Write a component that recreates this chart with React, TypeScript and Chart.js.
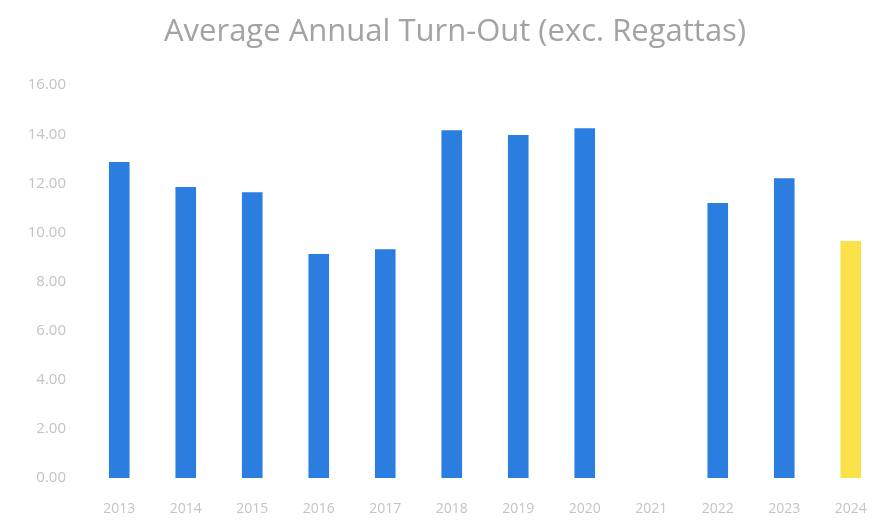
import React, { useEffect, useRef } from "react";
import { Chart, registerables } from "chart.js";

Chart.register(...registerables);

const categories = ["2013", "2014", "2015", "2016", "2017", "2018", "2019", "2020", "2021", "2022", "2023", "2024"];
const turnOut: (number | null)[] = [12.87, 11.85, 11.64, 9.12, 9.32, 14.17, 13.97, 14.25, null, 11.2, 12.21, 9.65];
const barColors = ["#2b7de0", "#2b7de0", "#2b7de0", "#2b7de0", "#2b7de0", "#2b7de0", "#2b7de0", "#2b7de0", "#2b7de0", "#2b7de0", "#2b7de0", "#fbe14a"];
const yTickValues = [0, 2, 4, 6, 8, 10, 12, 14, 16];
const titleText = "Average Annual Turn-Out (exc. Regattas)";

export default function App() {
  const ref = useRef<HTMLCanvasElement | null>(null);

  useEffect(() => {
    if (!ref.current) return;
    const chart = new Chart(ref.current, {
      type: "bar",
      data: {
        labels: categories,
        datasets: [
          {
            data: turnOut,
            backgroundColor: barColors,
            borderWidth: 0,
            categoryPercentage: 1,
            barPercentage: 0.31,
          },
        ],
      },
      options: {
        animation: false,
        responsive: false,
        devicePixelRatio: 1,
        layout: { padding: { left: 26, right: 26, top: 0, bottom: 0 } },
        plugins: {
          legend: { display: false },
          tooltip: { enabled: false },
          title: {
            display: true,
            text: titleText,
            color: "#a3a3a3",
            font: { family: "'Open Sans', sans-serif", size: 31, weight: "normal", lineHeight: 1.2 },
            padding: { top: 14, bottom: 34 },
          },
        },
        scales: {
          x: {
            grid: { display: false },
            border: { display: false },
            ticks: {
              color: "#c4c4c4",
              font: { family: "'Open Sans', sans-serif", size: 14 },
              padding: 15,
              maxRotation: 0,
              autoSkip: false,
            },
            afterFit: (scale: any) => {
              scale.height = 42;
            },
          },
          y: {
            min: 0,
            max: 16,
            grid: { display: false },
            border: { display: false },
            afterBuildTicks: (scale: any) => {
              scale.ticks = yTickValues.map((v) => ({ value: v }));
            },
            ticks: {
              color: "#c4c4c4",
              font: { family: "'Open Sans', sans-serif", size: 15 },
              padding: 12,
              callback: (v: any) => Number(v).toFixed(2),
            },
            afterFit: (scale: any) => {
              scale.width = 60;
            },
          },
        },
      },
    });
    return () => chart.destroy();
  }, []);

  return (
    <div style={{ position: "fixed", left: 0, top: 0, width: 877, height: 520, overflow: "hidden", background: "#fff" }}>
      <canvas ref={ref} width={910} height={520} style={{ width: 910, height: 520, display: "block" }} />
    </div>
  );
}
